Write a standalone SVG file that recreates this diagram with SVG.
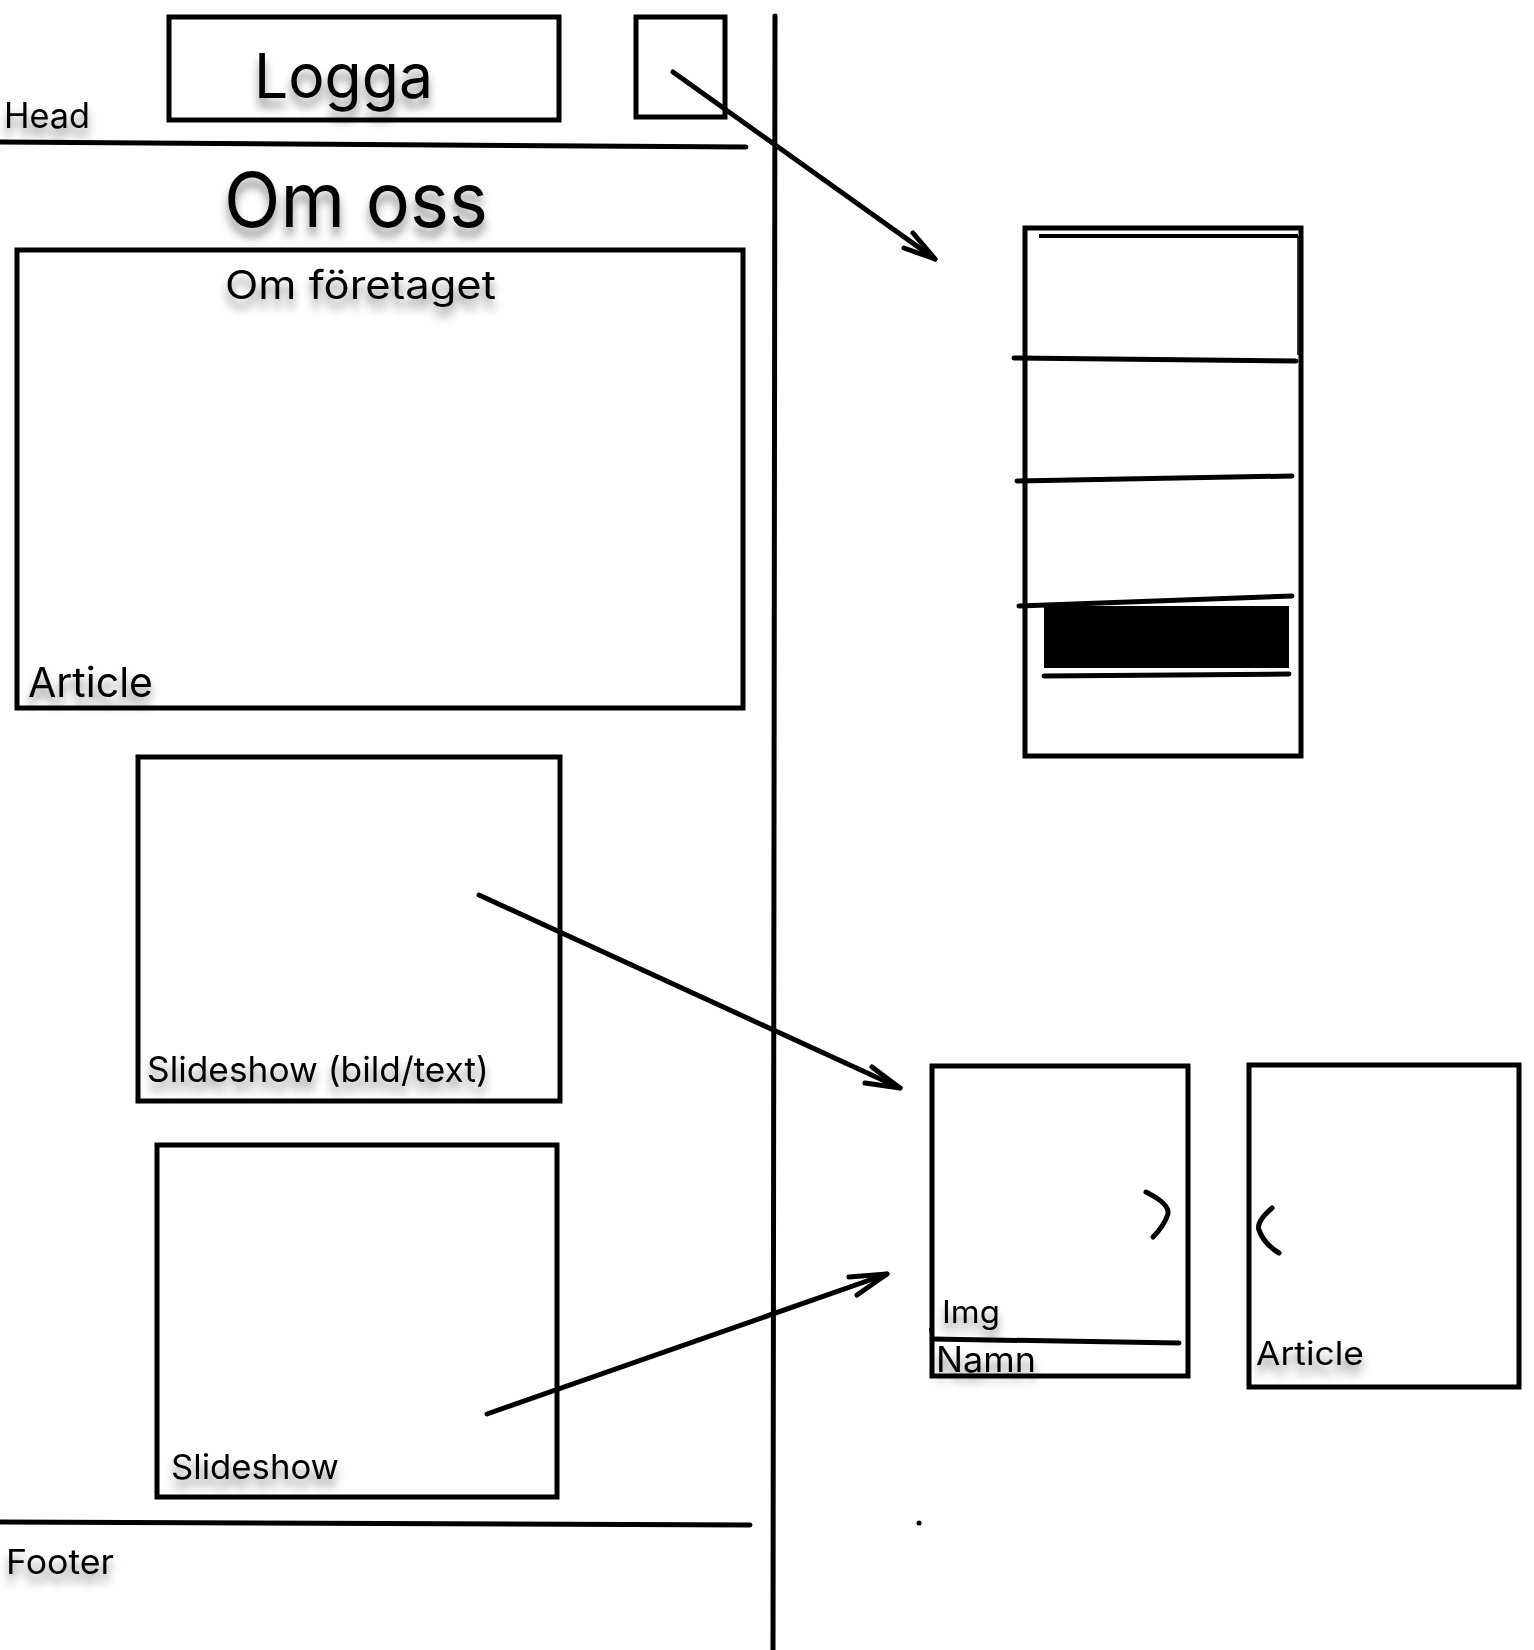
<svg xmlns="http://www.w3.org/2000/svg" width="1534" height="1650" viewBox="0 0 1534 1650">
  <style>
    .box { fill: none; stroke: #000; stroke-width: 5; }
    .ln { fill: none; stroke: #000; stroke-width: 5; stroke-linecap: round; stroke-linejoin: round; }
    .thin { fill: none; stroke: #000; stroke-width: 1.5; }
    .lbl { font-family: "Inter", "Liberation Sans", sans-serif; fill: #000; filter: url(#shadow); }
  </style>
  <defs>
    <filter id="shadow" x="-20%" y="-30%" width="140%" height="190%">
      <feDropShadow dx="0" dy="9" stdDeviation="5" flood-color="#000" flood-opacity="0.45"/>
    </filter>
  </defs>
  <rect width="1534" height="1650" fill="#fff"/>

  <g id="head">
    <text class="lbl" x="4" y="128" font-size="35" textLength="86" lengthAdjust="spacingAndGlyphs">Head</text>
    <line class="ln" x1="0" y1="142" x2="746" y2="147"/>
  </g>
  <g id="logga">
    <rect class="box" x="169" y="17" width="390" height="103"/>
    <text class="lbl" x="254" y="98" font-size="62" textLength="179" lengthAdjust="spacingAndGlyphs">Logga</text>
  </g>
  <g id="menu-button">
    <rect class="box" x="636" y="17" width="89" height="100"/>
  </g>
  <g id="title">
    <text class="lbl" x="224" y="227" font-size="76" textLength="264" lengthAdjust="spacingAndGlyphs">Om oss</text>
  </g>
  <g id="article">
    <rect class="box" x="17" y="250" width="726" height="458"/>
    <text class="lbl" x="225" y="299" font-size="39" textLength="271" lengthAdjust="spacingAndGlyphs">Om företaget</text>
    <text class="lbl" x="28" y="697" font-size="41" textLength="125" lengthAdjust="spacingAndGlyphs">Article</text>
  </g>
  <g id="slideshow-bild-text">
    <rect class="box" x="138" y="757" width="422" height="344"/>
    <text class="lbl" x="147" y="1082" font-size="35" textLength="342" lengthAdjust="spacingAndGlyphs">Slideshow (bild/text)</text>
  </g>
  <g id="slideshow">
    <rect class="box" x="157" y="1145" width="400" height="352"/>
    <text class="lbl" x="171" y="1479" font-size="34" textLength="168" lengthAdjust="spacingAndGlyphs">Slideshow</text>
  </g>
  <g id="footer">
    <line class="ln" x1="0" y1="1522" x2="750" y2="1525"/>
    <text class="lbl" x="6" y="1574" font-size="34" textLength="108" lengthAdjust="spacingAndGlyphs">Footer</text>
  </g>
  <g id="divider">
    <line class="ln" x1="775" y1="16" x2="773" y2="1650"/>
  </g>

  <g id="mobile-menu">
    <rect class="box" x="1025" y="228" width="276" height="528"/>
    <line x1="1039" y1="236" x2="1298" y2="236" stroke="#000" stroke-width="4"/>
    <line class="thin" x1="1298" y1="236" x2="1298" y2="355"/>
    <line class="ln" x1="1014" y1="358" x2="1296" y2="361"/>
    <line class="ln" x1="1017" y1="481" x2="1292" y2="476"/>
    <line class="ln" x1="1019" y1="606" x2="1292" y2="596"/>
    <rect x="1044" y="606" width="245" height="62" fill="#000"/>
    <line class="ln" x1="1044" y1="676" x2="1289" y2="674"/>
  </g>

  <g id="img-namn">
    <rect class="box" x="932" y="1066" width="256" height="310"/>
    <path class="ln" d="M1146 1192 Q1170 1204 1168 1214 Q1164 1226 1153 1237"/>
    <text class="lbl" x="942" y="1323" font-size="31" textLength="58" lengthAdjust="spacingAndGlyphs">Img</text>
    <line class="ln" x1="932" y1="1339" x2="1179" y2="1343"/>
    <line x1="930" y1="1328" x2="933" y2="1352" stroke="#000" stroke-width="2"/>
    <text class="lbl" x="936" y="1372" font-size="35" textLength="100" lengthAdjust="spacingAndGlyphs">Namn</text>
  </g>
  <g id="article-right">
    <rect class="box" x="1249" y="1065" width="270" height="322"/>
    <path class="ln" d="M1272 1208 Q1256 1222 1259 1230 Q1264 1244 1279 1253"/>
    <text class="lbl" x="1256" y="1365" font-size="33" textLength="108" lengthAdjust="spacingAndGlyphs">Article</text>
  </g>
  <g id="dot">
    <circle cx="919" cy="1523" r="2.5" fill="#000"/>
  </g>

  <g id="connectors">
    <line class="ln" x1="673" y1="72" x2="935" y2="259"/>
    <polyline class="ln" points="904,248 935,259 913,233"/>
    <line class="ln" x1="479" y1="895" x2="900" y2="1088"/>
    <polyline class="ln" points="872,1067 900,1088 865,1083"/>
    <line class="ln" x1="487" y1="1414" x2="887" y2="1274"/>
    <polyline class="ln" points="849,1277 887,1274 857,1295"/>
  </g>
</svg>
